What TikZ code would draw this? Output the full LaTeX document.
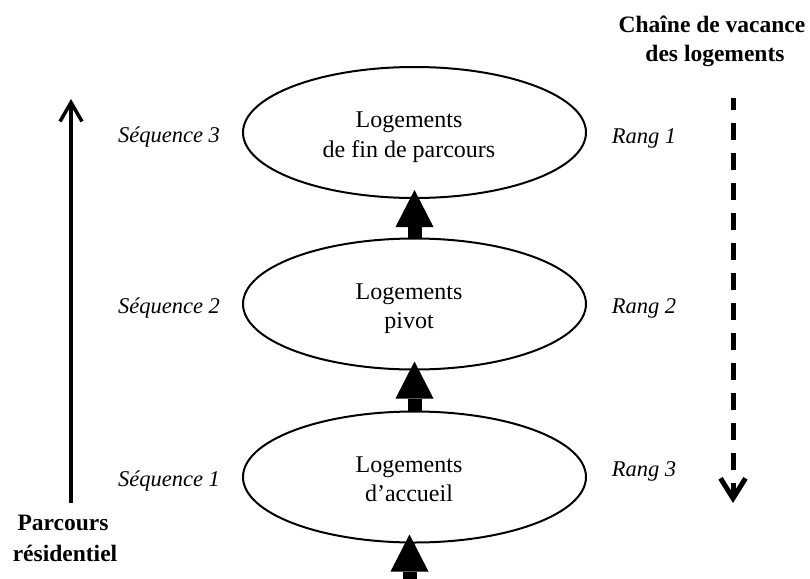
\documentclass[tikz,border=0pt]{standalone}
\usepackage{fontspec}
\setmainfont{Liberation Serif}
\usetikzlibrary{arrows.meta,shapes.geometric,calc}
\begin{document}
\begin{tikzpicture}[x=1pt,y=-1pt,
  ell/.style={draw, line width=2pt, ellipse, minimum width=343pt, minimum height=131pt, inner sep=0pt},
  intext/.style={anchor=base, font=\fontsize{24}{28}\selectfont, inner sep=0pt},
  side/.style={anchor=base, font=\fontsize{22.5}{27}\selectfont\itshape, inner sep=0pt},
  head/.style={anchor=base, font=\fontsize{23.5}{28}\selectfont\bfseries, inner sep=0pt},
  bigarrow/.style={line width=14pt, -{Triangle[width=38pt,length=37pt,line width=0pt]}},
  thinarrow/.style={line width=3.5pt, -{Straight Barb[length=19pt,width=22pt]}},
  dasharrow/.style={line width=5pt, dash pattern=on 17pt off 13pt, dash phase=5pt, -{Straight Barb[length=20pt,width=25pt]}},
]
\useasboundingbox (0,0) rectangle (810,578);

% ellipses
\node[ell] (e1) at (414.5,132.5) {};
\node[ell] (e2) at (414.5,304) {};
\node[ell] (e3) at (414.5,477) {};

% ellipse texts
\node[intext] (t1a) at (409,127.5) {Logements};
\node[intext] (t1b) at (409,157) {de fin de parcours};
\node[intext] (t2a) at (409,299) {Logements};
\node[intext] (t2b) at (409,328.5) {pivot};
\node[intext] (t3a) at (409,472) {Logements};
\node[intext] (t3b) at (409,501.5) {d’accueil};

% thick arrows
\draw[bigarrow] (e2.north) -- ($(e1.south)+(0,-9)$);
\draw[bigarrow] (e3.north) -- ($(e2.south)+(0,-9)$);
\coordinate (b0) at (409.5,582);
\draw[bigarrow] (b0) -- ($(b0 |- e3.south)+(0,-9)$);

% left arrow
\coordinate (l0) at (71,503);
\coordinate (l1) at (71,99);
\draw[thinarrow] (l0) -- (l1);

% right dashed arrow
\coordinate (d0) at (733,98);
\coordinate (d1) at (733,503);
\draw[dasharrow] (d0) -- (d1);

% side labels
\node[side] (s3) at (169,142) {Séquence 3};
\node[side] (s2) at (169,313) {Séquence 2};
\node[side] (s1) at (169,486) {Séquence 1};
\node[side] (r1) at (644,143) {Rang 1};
\node[side] (r2) at (644,313) {Rang 2};
\node[side] (r3) at (644,476) {Rang 3};

% headers
\node[head] (h1) at (712,33) {Chaîne de vacance};
\node[head] (h2) at (715,62) {des logements};
\node[head] (p1) at (63,530) {Parcours};
\node[head] (p2) at (65,561) {résidentiel};
\end{tikzpicture}
\end{document}
